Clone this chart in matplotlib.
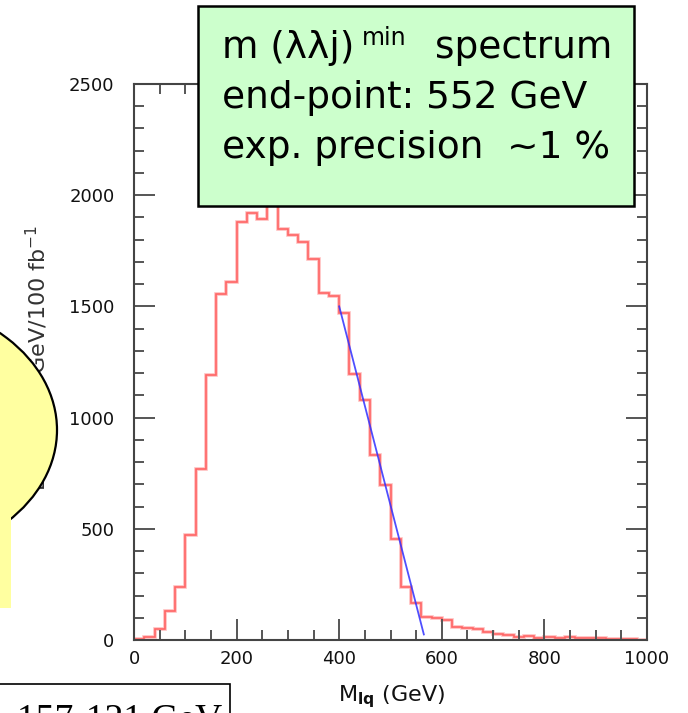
"""Espectro m(llq) con ajuste del end-point (recreación)."""

import matplotlib

matplotlib.use("Agg")

import numpy as np
import matplotlib.pyplot as plt
from matplotlib.patches import Ellipse, Rectangle

# Histograma: bordes de bin (GeV) y cuentas por bin
bin_edges = list(range(0, 1001, 20))
counts = [3, 13, 48, 130, 240, 473, 770, 1190, 1554, 1611,
          1880, 1922, 1892, 2020, 1847, 1820, 1790, 1712, 1559, 1547,
          1469, 1198, 1078, 833, 698, 455, 240, 165, 105, 100,
          88, 60, 55, 50, 35, 28, 22, 15, 18, 10,
          15, 10, 12, 8, 10, 8, 6, 5, 3, 2]

# Ajuste lineal del borde
fit_x = [400, 565]
fit_y = [1500, 25]

x_ticks = [0, 200, 400, 600, 800, 1000]
y_ticks = [0, 500, 1000, 1500, 2000, 2500]

W, H = 688, 713
fig = plt.figure(figsize=(W / 100, H / 100), dpi=100)

# --- ejes principales (en pixeles de la figura) ---
x0, x1, y_top, y_bot = 134, 647, 84, 640
ax = fig.add_axes([x0 / W, (H - y_bot) / H, (x1 - x0) / W, (y_bot - y_top) / H])
ax.stairs(counts, bin_edges, color="#ffbcbc", lw=2.6, baseline=None)
ax.stairs(counts, bin_edges, color="#ff6666", lw=1.2, baseline=None)
ax.plot(fit_x, fit_y, color="#3030ff", lw=1.3, alpha=0.85)

ax.set_xlim(0, 1000)
ax.set_ylim(0, 2500)
ax.set_xticks(x_ticks)
ax.set_yticks(y_ticks)
ax.set_xticks(np.arange(0, 1001, 50), minor=True)
ax.set_yticks(np.arange(0, 2501, 100), minor=True)
ax.tick_params(which="both", direction="in", top=True, right=True,
               color="#555555", width=1.4, labelsize=13, labelcolor="#111111")
ax.tick_params(which="major", length=15)
ax.tick_params(which="minor", length=7.5)
ax.tick_params(axis="y", pad=14)
ax.tick_params(axis="x", pad=7)
for s in ax.spines.values():
    s.set_color("#444444")
    s.set_linewidth(1.5)

# --- capa superior en coordenadas de pixel ---
ov = fig.add_axes([0, 0, 1, 1], zorder=5)
ov.set_xlim(0, W)
ov.set_ylim(H, 0)
ov.axis("off")
ov.patch.set_alpha(0)

# etiqueta del eje y (parcialmente tapada por el globo)
ov.text(37, 225, "Events/20 GeV/100 fb$^{-1}$", rotation=90, ha="center",
        va="top", fontsize=16, color="#333333", zorder=1)

# etiqueta del eje x
ov.text(392, 697, "M$_{\\mathbf{lq}}$ (GeV)", ha="center", va="center",
        fontsize=16, color="#111111")

# globo amarillo
ov.add_patch(Ellipse((-114, 430), 342, 260, facecolor="#ffffa0",
                     edgecolor="black", lw=1.6, zorder=2))
ov.add_patch(Rectangle((-5, 512), 16, 96, facecolor="#ffffa0",
                       edgecolor="none", zorder=3))

# cuadro verde
ov.add_patch(Rectangle((198, 6), 436, 200, facecolor="#ccffcc",
                       edgecolor="black", lw=1.8, zorder=4))
ov.text(222, 58, "m (λλj)", ha="left", va="baseline", fontsize=27, zorder=5)
ov.text(362, 45, "min", ha="left", va="baseline", fontsize=17, zorder=5)
ov.text(612, 58, "spectrum", ha="right", va="baseline", fontsize=27, zorder=5)
ov.text(222, 108, "end-point: 552 GeV", ha="left", va="baseline",
        fontsize=27, zorder=5)
ov.text(222, 158, "exp. precision  ~1 %", ha="left", va="baseline",
        fontsize=27, zorder=5)

# cuadro inferior izquierdo
ov.add_patch(Rectangle((-5, 684), 235, 60, facecolor="white",
                       edgecolor="black", lw=1.2, zorder=4))
ov.text(222, 703, "157-121 GeV", ha="right", va="top", fontsize=27,
        family="Liberation Serif", zorder=5)

fig.savefig("out.png", dpi=100)
